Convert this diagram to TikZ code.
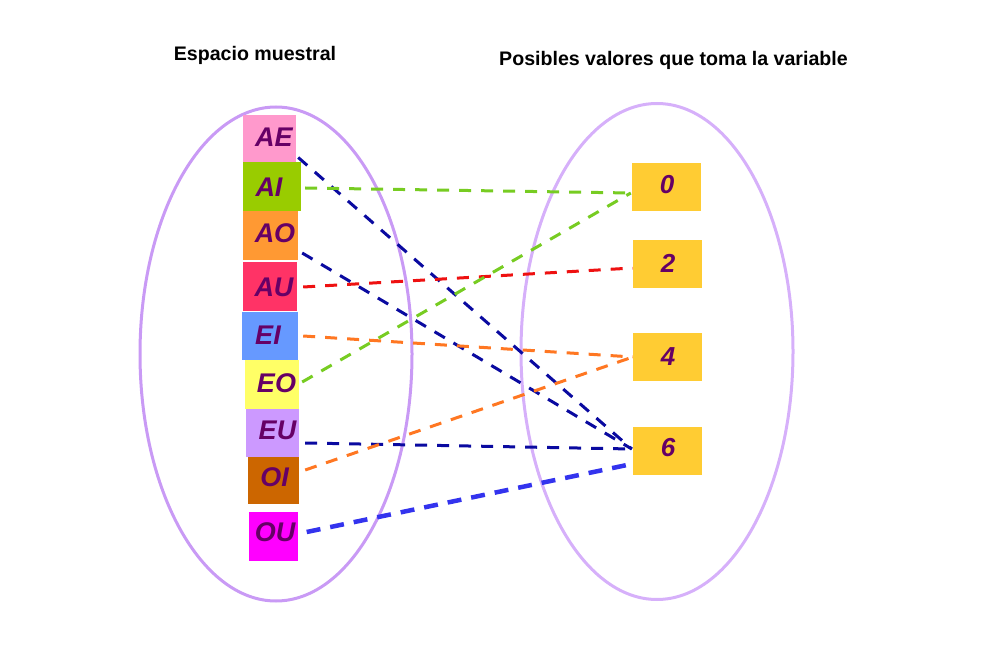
\documentclass[tikz,border=0pt]{standalone}
\usepackage{fontspec}
\setmainfont{Liberation Sans}
\usetikzlibrary{calc}
\definecolor{lav}{HTML}{C99AF5}
\definecolor{lavR}{HTML}{D6B0FA}
\definecolor{txtp}{HTML}{660066}
\definecolor{cAE}{HTML}{FF99CC}
\definecolor{cAI}{HTML}{99CC00}
\definecolor{cAO}{HTML}{FF9933}
\definecolor{cAU}{HTML}{FF3366}
\definecolor{cEI}{HTML}{6699FF}
\definecolor{cEO}{HTML}{FFFF66}
\definecolor{cEU}{HTML}{CC99FF}
\definecolor{cOI}{HTML}{CC6600}
\definecolor{cOU}{HTML}{FF00FF}
\definecolor{cval}{HTML}{FFCC33}
\definecolor{lgreen}{HTML}{77CC22}
\definecolor{lred}{HTML}{EE1111}
\definecolor{lorange}{HTML}{FF7722}
\definecolor{ldblue}{HTML}{0A0AA0}
\definecolor{lblue}{HTML}{3333EE}
\tikzset{
  box/.style={draw=none, inner sep=0pt},
  lbl/.style={text=txtp, font=\fontsize{27}{30}\selectfont\bfseries\itshape, inner sep=0pt},
  vlbl/.style={text=txtp, font=\fontsize{26}{30}\selectfont\bfseries\itshape, inner sep=0pt},
  ttl/.style={text=black, font=\fontsize{19.6}{23}\selectfont\bfseries, inner sep=0pt},
  conn/.style={line width=3pt, dash pattern=on 12pt off 10pt},
  connthick/.style={line width=4.5pt, dash pattern=on 14pt off 10pt},
  oval/.style={line width=3pt}
}
\begin{document}
\begin{tikzpicture}[x=1pt,y=-1pt]
\useasboundingbox (0,0) rectangle (991,668);
% ellipses
\draw[oval, draw=lav] (276,354) ellipse [x radius=136, y radius=247];
\draw[oval, draw=lavR] (657,351.5) ellipse [x radius=136, y radius=248];
% titles
\node[ttl] (t1) at (255,55) {Espacio muestral};
\node[ttl] (t2) at (673.5,60) {Posibles valores que toma la variable};
% left boxes
\node[box, fill=cAE, minimum width=53pt, minimum height=47pt] (AE) at (269.5,138.5) {};
\node[box, fill=cAI, minimum width=58pt, minimum height=49pt] (AI) at (272,186.5) {};
\node[box, fill=cAO, minimum width=55pt, minimum height=49pt] (AO) at (270.5,235.5) {};
\node[box, fill=cAU, minimum width=54pt, minimum height=49pt] (AU) at (270,286.5) {};
\node[box, fill=cEI, minimum width=56pt, minimum height=48pt] (EI) at (270,336) {};
\node[box, fill=cEO, minimum width=54pt, minimum height=49pt] (EO) at (272,384.5) {};
\node[box, fill=cEU, minimum width=53pt, minimum height=48pt] (EU) at (272.5,433) {};
\node[box, fill=cOI, minimum width=51pt, minimum height=47pt] (OI) at (273.5,480.5) {};
\node[box, fill=cOU, minimum width=49pt, minimum height=49pt] (OU) at (273.5,536.5) {};
\node[lbl] (AEt) at (274,137) {AE};
\node[lbl] (AIt) at (269,187) {AI};
\node[lbl] (AOt) at (275,233) {AO};
\node[lbl] (AUt) at (274,287) {AU};
\node[lbl] (EIt) at (268,335) {EI};
\node[lbl] (EOt) at (276.5,383) {EO};
\node[lbl] (EUt) at (277.5,430) {EU};
\node[lbl] (OIt) at (274.5,477) {OI};
\node[lbl] (OUt) at (275,532) {OU};
% right boxes
\node[box, fill=cval, minimum width=69pt, minimum height=48pt] (V0) at (666.5,187) {};
\node[box, fill=cval, minimum width=69pt, minimum height=48pt] (V2) at (667.5,264) {};
\node[box, fill=cval, minimum width=69pt, minimum height=48pt] (V4) at (667.5,357) {};
\node[box, fill=cval, minimum width=69pt, minimum height=48pt] (V6) at (667.5,451) {};
\node[vlbl] (V0t) at (667,185) {0};
\node[vlbl] (V2t) at (668,263) {2};
\node[vlbl] (V4t) at (668,357) {4};
\node[vlbl] (V6t) at (668,448) {6};
% connectors
\draw[conn, draw=ldblue] ([xshift=2pt,yshift=-19pt]AE.east) -- ([xshift=-1pt,yshift=2pt]V6.west);
\draw[conn, draw=lgreen] ([xshift=4pt,yshift=-1.5pt]AI.east) -- ([xshift=-1pt,yshift=-6pt]V0.west);
\draw[conn, draw=ldblue] ([xshift=4pt,yshift=-17.5pt]AO.east) -- ([xshift=-1pt,yshift=2pt]V6.west);
\draw[conn, draw=lred] ([xshift=6pt,yshift=-0.5pt]AU.east) -- ([yshift=-4pt]V2.west);
\draw[conn, draw=lorange] ([xshift=5pt]EI.east) -- (V4.west);
\draw[conn, draw=lgreen] ([xshift=3pt,yshift=2.5pt]EO.east) -- ([xshift=-1pt,yshift=-6pt]V0.west);
\draw[conn, draw=ldblue] ([xshift=6pt,yshift=-10pt]EU.east) -- ([xshift=-1pt,yshift=2pt]V6.west);
\draw[conn, draw=lorange] ([xshift=6pt,yshift=10.5pt]OI.east) -- (V4.west);
\draw[connthick, draw=lblue] ([xshift=8.5pt,yshift=4.5pt]OU.east) -- ([xshift=-1pt,yshift=-13pt]V6.west);
\end{tikzpicture}
\end{document}
